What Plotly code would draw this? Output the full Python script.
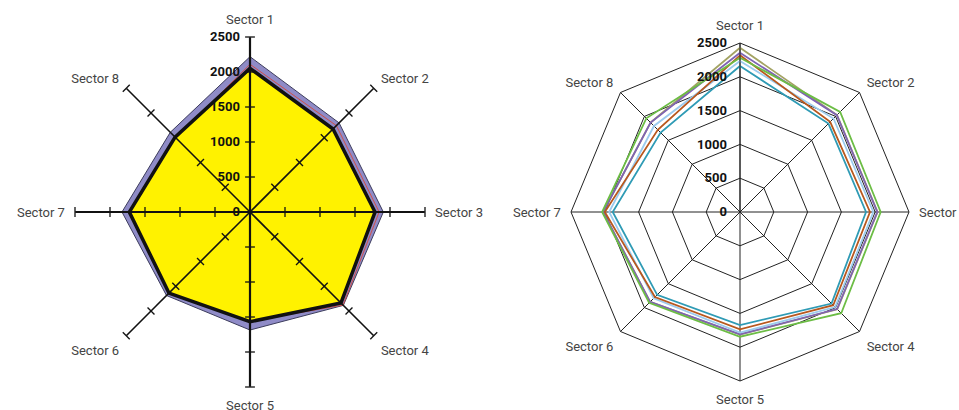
import plotly.graph_objects as go

sectors = ["Sector 1", "Sector 2", "Sector 3", "Sector 4",
           "Sector 5", "Sector 6", "Sector 7", "Sector 8"]
radial_ticks = [0, 500, 1000, 1500, 2000, 2500]
radial_max = 2500

# Left chart series
left_outer = [2219, 1800, 1905, 1886, 1686, 1687, 1829, 1610]
left_red = [2110, 1745, 1845, 1880, 1560, 1600, 1700, 1500]
left_inner = [2052, 1677, 1786, 1838, 1567, 1637, 1724, 1513]

# Right chart series
right_olive = [2430, 2030, 2035, 2035, 1812, 1882, 2025, 1872]
right_purple = [2356, 2026, 2031, 2030, 1810, 1880, 2025, 1870]
right_lightblue = [2234, 1956, 1972, 1990, 1785, 1805, 1936, 1800]
right_brown = [2318, 1886, 1923, 1950, 1736, 1780, 2000, 1720]
right_green = [2282, 2095, 2081, 2118, 1845, 1900, 2040, 1960]
right_teal = [2160, 1850, 1864, 1915, 1672, 1733, 1883, 1660]

LABEL_FONT = "Roboto, Liberation Sans Narrow, sans-serif"
closed = lambda v: v + [v[0]]
theta_c = sectors + [sectors[0]]

fig = go.Figure()

# ---- left chart ----
fig.add_trace(go.Scatterpolar(r=closed(left_outer), theta=theta_c, mode="lines",
                              fill="toself", fillcolor="#8f8bc7",
                              line=dict(color="#3c3c5c", width=1),
                              subplot="polar", showlegend=False))
fig.add_trace(go.Scatterpolar(r=closed(left_red), theta=theta_c, mode="lines",
                              line=dict(color="#d0504a", width=1),
                              subplot="polar", showlegend=False))
fig.add_trace(go.Scatterpolar(r=closed(left_inner), theta=theta_c, mode="lines",
                              fill="toself", fillcolor="#fff200",
                              line=dict(color="#111111", width=3.5),
                              subplot="polar", showlegend=False))
# spokes drawn above the fills
for i, s in enumerate(sectors):
    fig.add_trace(go.Scatterpolar(r=[0, radial_max], theta=[s, s], mode="lines",
                                  line=dict(color="#111111",
                                            width=2.2 if i % 2 == 0 else 1.6),
                                  subplot="polar", showlegend=False,
                                  hoverinfo="skip"))
# tick marks crossing each spoke
tick_r, tick_t, tick_a = [], [], []
for i, s in enumerate(sectors):
    for v in radial_ticks[1:]:
        tick_r.append(v)
        tick_t.append(s)
        tick_a.append(i * 45)
fig.add_trace(go.Scatterpolar(r=tick_r, theta=tick_t, mode="markers",
                              marker=dict(symbol="line-ew", size=7, angle=tick_a,
                                          line=dict(color="#111111", width=1.3)),
                              subplot="polar", showlegend=False, hoverinfo="skip"))

# ---- right chart ----
for vals, col in [(right_olive, "#a3a363"), (right_purple, "#7f63b3"),
                  (right_lightblue, "#9ccbee"), (right_brown, "#b8581e"),
                  (right_green, "#6cbd45"), (right_teal, "#2f9bb5")]:
    fig.add_trace(go.Scatterpolar(r=closed(vals), theta=theta_c, mode="lines",
                                  line=dict(color=col, width=1.8),
                                  subplot="polar2", showlegend=False))

W, H = 959, 410


def dom(cx, cy, rad):
    return dict(x=[(cx - rad) / W, (cx + rad) / W],
                y=[(H - cy - rad) / H, (H - cy + rad) / H])


def ang(**kw):
    d = dict(type="category", categoryarray=sectors, rotation=90,
             direction="clockwise",
             tickfont=dict(family=LABEL_FONT, size=13, color="#444444"),
             ticks="outside", ticklen=7, tickcolor="rgba(0,0,0,0)")
    d.update(kw)
    return d


def rad(**kw):
    d = dict(range=[0, radial_max], tickvals=radial_ticks, angle=90,
             tickangle=90, side="counterclockwise",
             tickfont=dict(family=LABEL_FONT, size=13, color="#111111",
                           weight="bold"),
             ticks="outside", tickcolor="rgba(0,0,0,0)")
    d.update(kw)
    return d


fig.update_layout(
    width=W, height=H, margin=dict(l=0, r=0, t=0, b=0),
    paper_bgcolor="white", plot_bgcolor="white",
    polar=dict(
        domain=dom(250, 212, 175), bgcolor="rgba(0,0,0,0)", gridshape="linear",
        angularaxis=ang(showline=False, showgrid=False),
        radialaxis=rad(showline=False, showgrid=False, ticklen=5),
    ),
    polar2=dict(
        domain=dom(740, 212, 169), bgcolor="white", gridshape="linear",
        angularaxis=ang(showline=True, linecolor="#222222", linewidth=1,
                        showgrid=True, gridcolor="#222222", gridwidth=1),
        radialaxis=rad(showline=True, linecolor="#222222", linewidth=1,
                       showgrid=True, gridcolor="#222222", gridwidth=1,
                       ticklen=8),
    ),
)

fig.write_html("out.html", config={"displayModeBar": False},
               post_script="document.body.style.margin='0';"
                           "document.body.style.padding='0';")
